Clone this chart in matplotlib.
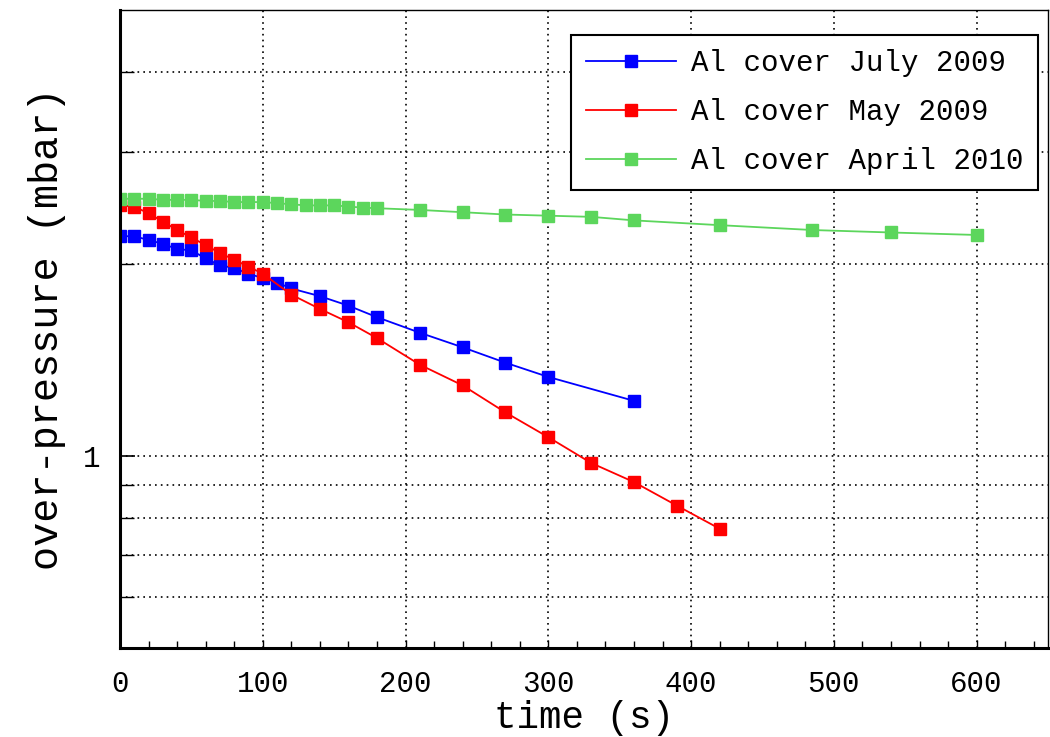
import matplotlib
matplotlib.use("Agg")
import matplotlib.pyplot as plt
from matplotlib.ticker import FixedLocator, NullFormatter, FixedFormatter, MultipleLocator

# data (time in s, over-pressure in mbar)
t_july = [0, 10, 20, 30, 40, 50, 60, 70, 80, 90, 100, 110, 120, 140, 160, 180,
          210, 240, 270, 300, 360]
p_july = [2.21, 2.21, 2.18, 2.15, 2.11, 2.10, 2.04, 1.99, 1.97, 1.93, 1.90, 1.87,
          1.83, 1.78, 1.72, 1.65, 1.56, 1.48, 1.40, 1.33, 1.22]

t_may = [0, 10, 20, 30, 40, 50, 60, 70, 80, 90, 100, 120, 140, 160, 180, 210,
         240, 270, 300, 330, 360, 390, 420]
p_may = [2.47, 2.46, 2.40, 2.33, 2.26, 2.20, 2.14, 2.08, 2.03, 1.98, 1.93, 1.79,
         1.70, 1.62, 1.53, 1.39, 1.29, 1.17, 1.07, 0.975, 0.91, 0.836, 0.769]

t_april = [0, 10, 20, 30, 40, 50, 60, 70, 80, 90, 100, 110, 120, 130, 140, 150,
           160, 170, 180, 210, 240, 270, 300, 330, 360, 420, 485, 540, 600]
p_april = [2.53, 2.53, 2.53, 2.52, 2.52, 2.52, 2.51, 2.51, 2.50, 2.50, 2.50, 2.49,
           2.48, 2.47, 2.47, 2.47, 2.46, 2.45, 2.445, 2.43, 2.41, 2.39, 2.38, 2.37,
           2.34, 2.30, 2.26, 2.24, 2.22]

labels = ["Al cover July 2009", "Al cover May 2009", "Al cover April 2010"]

mono = "Liberation Mono"
plt.rcParams["font.family"] = [mono, "DejaVu Sans Mono"]

fig = plt.figure(figsize=(10.5, 7.37), dpi=100)
ax = fig.add_axes([120 / 1050, 1 - 648 / 737, 928 / 1050, 638 / 737])

ms = 8.8
ax.plot(t_july, p_july, "-s", color="#0000ff", lw=1.3, ms=ms, mec="#0000ff", label=labels[0])
ax.plot(t_may, p_may, "-s", color="#ff0000", lw=1.3, ms=ms, mec="#ff0000", label=labels[1])
ax.plot(t_april, p_april, "-s", color="#5cd65c", lw=1.3, ms=ms, mec="#5cd65c", label=labels[2])

ax.set_yscale("log")
ax.set_xlim(0, 650)
ax.set_ylim(0.5, 5.0)

ax.yaxis.set_major_locator(FixedLocator([1]))
ax.yaxis.set_major_formatter(FixedFormatter(["1"]))
ax.yaxis.set_minor_locator(FixedLocator([0.6, 0.7, 0.8, 0.9, 2, 3, 4]))
ax.yaxis.set_minor_formatter(NullFormatter())
ax.xaxis.set_major_locator(MultipleLocator(100))
ax.xaxis.set_minor_locator(MultipleLocator(20))

ax.grid(True, which="major", color="black", linestyle=(0, (1, 2.5)), lw=1.2)
ax.grid(True, which="minor", axis="y", color="black", linestyle=(0, (1, 2.5)), lw=1.2)

ax.tick_params(axis="both", which="both", direction="in", labelsize=21, colors="black")
ax.tick_params(axis="x", which="major", length=6, width=1, pad=16)
ax.tick_params(axis="x", which="minor", length=5, width=1)
ax.tick_params(axis="y", which="major", length=11, width=1.2, pad=14)
ax.tick_params(axis="y", which="minor", length=10, width=1)

for side in ["left", "bottom"]:
    ax.spines[side].set_linewidth(2.2)
for side in ["top", "right"]:
    ax.spines[side].set_linewidth(1.0)

ax.set_xlabel("time (s)", fontsize=27, labelpad=1)
ax.set_ylabel("over-pressure (mbar)", fontsize=29, labelpad=12)

leg = ax.legend(loc="upper right", bbox_to_anchor=(0.989, 0.961), borderaxespad=0,
                fontsize=21, frameon=True, fancybox=False, edgecolor="black",
                framealpha=1, handlelength=3.1, borderpad=0.5, labelspacing=0.72,
                handletextpad=0.5)
leg.get_frame().set_linewidth(1.5)

fig.savefig("out.png", dpi=100)
